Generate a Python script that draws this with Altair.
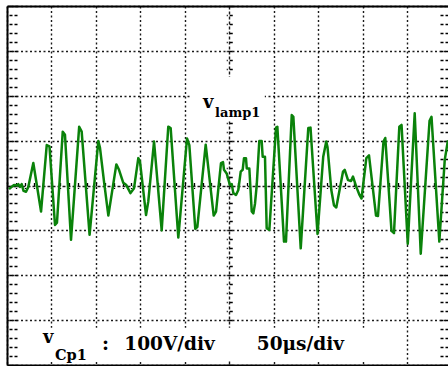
import altair as alt
import pandas as pd

# Oscilloscope capture of v_lamp1 (100 V/div, 50 us/div)
time_us = [2.3, 5.3, 7.9, 10.9, 12.7, 14.6, 16.5, 18.6, 21.4, 24.0,
           29.6, 38.3, 44.7, 47.8, 54.0, 56.2, 62.7, 65.2, 72.0, 81.2,
           84.0, 92.9, 102.7, 104.6, 109.1, 114.0, 123.0, 126.0, 130.8, 134.2,
           138.9, 142.9, 147.7, 149.6, 156.4, 158.9, 165.4, 174.0, 181.4, 184.1,
           192.7, 202.5, 205.1, 211.8, 214.1, 223.5, 232.5, 235.1, 240.7, 243.0,
           244.1, 247.1, 250.8, 252.8, 254.6, 257.6, 260.2, 262.9, 265.1, 266.6,
           268.8, 269.7, 272.6, 275.3, 277.1, 279.0, 280.9, 283.8, 286.5, 287.6,
           290.2, 292.1, 295.1, 302.6, 304.1, 311.6, 313.8, 320.3, 322.1, 330.4,
           338.9, 341.4, 349.3, 355.7, 359.1, 360.5, 364.8, 367.8, 370.4, 378.0,
           379.9, 383.6, 387.0, 389.2, 392.9, 396.5, 398.8, 404.2, 407.2, 415.1,
           417.3, 423.5, 425.5, 432.5, 435.3, 441.3, 443.8, 450.8, 458.6, 465.4,
           475.3, 477.5, 486.3, 492.4, 496.0]
volts = [-8, -3, 1, 0, 3, -3, 3, -12, -14, -3,
         50, -58, 90, 87, -88, -83, 120, 113, -121, 131,
         120, -110, 99, 84, 9, -67, 47, 35, 6, 1,
         -17, -6, 61, 53, -66, -36, 98, -100, 131, 128,
         -116, 105, 90, -97, -92, 91, -67, -58, 50, 52,
         35, 27, 1, 3, -17, -21, -10, 31, 35, 61,
         61, 38, 38, -58, -62, -40, 1, 99, 99, 64,
         64, -95, -99, 129, 131, -125, -125, 157, 153, -140,
         128, 129, -108, 64, 98, 86, -10, -44, -49, 31,
         35, 12, 10, 20, -3, -21, -29, 61, 67, -67,
         -68, 98, 106, -101, -106, 131, 135, -130, 161, -152,
         144, 153, -125, 57, 101]

# Graticule: 10 x 8 divisions, 5 minor marks per division
major_t = [0, 50, 100, 150, 200, 250, 300, 350, 400, 450]
major_v = [-400, -300, -200, -100, 0, 100, 200, 300, 400]
minor_t = list(range(0, 500, 10))
minor_v = list(range(-400, 401, 20))
T_MAX = 496.06

W, H = 441, 359
XC = W * 250 / T_MAX

df = pd.DataFrame({"t": time_us, "v": volts})
xs = alt.Scale(domain=[0, T_MAX], nice=False, zero=False)
ys = alt.Scale(domain=[-400, 400], nice=False, zero=False)

GRID = "#1a1a1a"
dash_x = {"condition": {"test": "datum.value === 250", "value": [3, 2]}, "value": [2, 2.5]}
dash_y = {"condition": {"test": "datum.value === 0", "value": [3, 2]}, "value": [2, 2.5]}


def plain(orient, **kw):
    base = dict(orient=orient, labels=False, title=None, grid=False,
                domain=False, ticks=False)
    base.update(kw)
    return alt.Axis(**base)


def minor(orient, values, offset, size):
    return plain(orient, values=values, ticks=True, tickSize=size, offset=offset,
                 tickColor="black", tickWidth=1.3, tickDash=[3, 2])


trace = alt.Chart(df).mark_line(color="#0a820a", strokeWidth=2.5, strokeJoin="round").encode(
    x=alt.X("t:Q", scale=xs, axis=plain(
        "bottom", values=major_t, grid=True, gridColor=GRID, gridWidth=1.4,
        gridDash=dash_x, domain=True, domainColor="black", domainWidth=2)),
    y=alt.Y("v:Q", scale=ys, axis=plain(
        "left", values=major_v, grid=True, gridColor=GRID, gridWidth=1.4,
        gridDash=dash_y, domain=True, domainColor="black", domainWidth=2)),
)

ghost = alt.Chart(df).mark_line(opacity=0)

frame_top = ghost.encode(
    x=alt.X("t:Q", scale=xs, axis=plain("top", domain=True, domainColor="black", domainWidth=2)),
    y=alt.Y("v:Q", scale=ys, axis=minor("right", minor_v, -8, 8)),
)
edge_left = ghost.encode(
    x=alt.X("t:Q", scale=xs, axis=minor("bottom", minor_t, -(H / 2 + 3), 6)),
    y=alt.Y("v:Q", scale=ys, axis=minor("left", minor_v, -10, 9)),
)
centre_v = ghost.encode(
    x=alt.X("t:Q", scale=xs, axis=None),
    y=alt.Y("v:Q", scale=ys, axis=minor("left", minor_v, -(XC + 3), 6)),
)

# white patches behind the captions
patch_df = pd.DataFrame({"t": [206, 17], "t2": [290, 420], "v": [242, -317], "v2": [146, -389]})
patches = alt.Chart(patch_df).mark_rect(color="white").encode(
    x=alt.X("t:Q", scale=xs, axis=None), x2="t2:Q",
    y=alt.Y("v:Q", scale=ys, axis=None), y2="v2:Q",
)


def caption(text, t, v, size):
    return alt.Chart(pd.DataFrame({"t": [t], "v": [v], "s": [text]})).mark_text(
        align="left", baseline="alphabetic", font="DejaVu Serif", fontWeight="bold",
        fontSize=size, color="black",
    ).encode(
        x=alt.X("t:Q", scale=xs, axis=None),
        y=alt.Y("v:Q", scale=ys, axis=None),
        text="s:N",
    )


captions = [
    caption("v", 220.5, 173, 18),
    caption("lamp1", 234.0, 152, 13),
    caption("v", 40.5, -351, 18),
    caption("Cp1", 54, -389, 14.5),
    caption(":", 107, -367, 19),
    caption("100V/div", 132.0, -367, 18.5),
    caption("50\u03bcs/div", 281.0, -367, 18.5),
]

chart = alt.layer(
    trace, frame_top, edge_left, centre_v, patches, *captions
).resolve_axis(
    x="independent", y="independent"
).properties(
    width=W, height=H,
    padding={"left": 7, "top": 6, "right": 0, "bottom": 1},
    autosize=alt.AutoSizeParams(type="none"),
    background="white",
).configure_view(stroke=None)

chart.save("out.html", embed_options={"renderer": "svg", "actions": False})
